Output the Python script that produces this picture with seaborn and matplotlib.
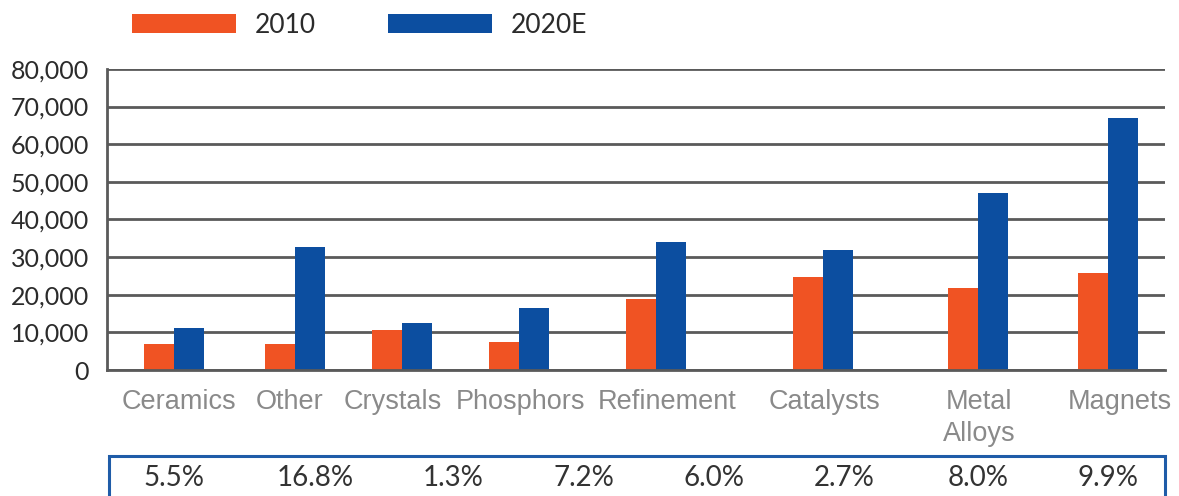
import numpy as np
import pandas as pd
import matplotlib
matplotlib.use("Agg")
import matplotlib.pyplot as plt
import matplotlib.transforms as mtransforms
import seaborn as sns
from matplotlib.patches import Patch, Rectangle
from matplotlib.ticker import FuncFormatter, FixedLocator

# ---- data ----
categories = ["Ceramics", "Other", "Crystals", "Phosphors", "Refinement",
              "Catalysts", "Metal\nAlloys", "Magnets"]
values_2010 = [6800, 6800, 10600, 7500, 18900, 24700, 21800, 25800]
values_2020E = [11100, 32700, 12500, 16500, 34000, 31900, 47000, 67000]
series_names = ["2010", "2020E"]
growth_labels = ["5.5%", "16.8%", "1.3%", "7.2%", "6.0%", "2.7%", "8.0%", "9.9%"]
y_ticks = [0, 10000, 20000, 30000, 40000, 50000, 60000, 70000, 80000]

# ---- layout of the original (uneven category slots, in pixel units) ----
group_x = [174, 295, 402, 519, 656, 823, 978, 1108]
slot_edges = [109, 246, 338, 456, 574, 735, 903, 1045, 1162]
label_x = [179, 290, 393, 521, 667, 825, 979, 1120]
pct_x = [174, 315, 453, 584, 714, 844, 978, 1108]
GROUP_W = 60

# ---- style ----
ORANGE = "#F05323"
BLUE = "#0C4EA0"
GRID = "#5a5a5a"
GILL = ["Lato", "DejaVu Sans"]
ARIAL = ["Liberation Sans", "DejaVu Sans"]

df = pd.DataFrame({
    "pos": group_x + group_x,
    "series": [series_names[0]] * len(categories) + [series_names[1]] * len(categories),
    "value": values_2010 + values_2020E,
})

sns.set_theme(style="white")
plt.rcParams["font.family"] = GILL

fig = plt.figure(figsize=(11.79, 4.96), dpi=100)
ax = fig.add_axes([107 / 1179, 0.254, (1165 - 107) / 1179, 0.607])

min_gap = np.diff(group_x).min()
sns.barplot(data=df, x="pos", y="value", hue="series", native_scale=True,
            hue_order=series_names, palette=[ORANGE, BLUE],
            width=GROUP_W / min_gap, gap=0, errorbar=None, ax=ax,
            legend=False, saturation=1, edgecolor="none", linewidth=0)

ax.set_ylim(0, 80000)
ax.set_xlim(107, 1165)
ax.yaxis.set_major_locator(FixedLocator(y_ticks))
ax.yaxis.set_major_formatter(FuncFormatter(lambda v, p: f"{int(v):,}"))
ax.grid(axis="y", color=GRID, linewidth=2, zorder=0)
ax.grid(axis="x", visible=False)
ax.set_axisbelow(True)
for s in ["top", "right"]:
    ax.spines[s].set_visible(False)
for s in ["left", "bottom"]:
    ax.spines[s].set_color(GRID)
    ax.spines[s].set_linewidth(2)

ax.tick_params(axis="y", which="major", length=7, width=2, color=GRID,
               direction="out", labelsize=18, labelcolor="#2b2b2b", pad=6)
ax.set_xticks(label_x)
ax.set_xticklabels(categories, fontfamily=ARIAL, fontsize=19.5,
                   color="#8a8a8a", linespacing=1.3)
ax.set_xticks(slot_edges, minor=True)
ax.tick_params(axis="x", which="major", length=0, pad=14)
ax.tick_params(axis="x", which="minor", length=8, width=2, color=GRID,
               direction="out")
ax.set_xlabel("")
ax.set_ylabel("")

# legend
handles = [Patch(facecolor=ORANGE, edgecolor="none"),
           Patch(facecolor=BLUE, edgecolor="none")]
fig.legend(handles, series_names, loc="center left",
           bbox_to_anchor=(0.0915, 0.949), ncol=2, frameon=False,
           prop={"family": GILL, "size": 19},
           handlelength=3.95, handleheight=0.68,
           handletextpad=0.7, columnspacing=2.75, labelcolor="#2b2b2b")

# growth table box
box = Rectangle((109 / 1179, -0.05), (1165 - 109) / 1179, (496 - 456) / 496 + 0.05,
                transform=fig.transFigure, fill=False, edgecolor="#1F5CA8",
                linewidth=2.2, clip_on=False)
fig.add_artist(box)
trans = mtransforms.blended_transform_factory(ax.transData, fig.transFigure)
for x, g in zip(pct_x, growth_labels):
    ax.text(x, 1 - 478 / 496, g, transform=trans, ha="center", va="center",
            fontsize=20, color="#333333", clip_on=False)

fig.savefig("out.png", dpi=100)
